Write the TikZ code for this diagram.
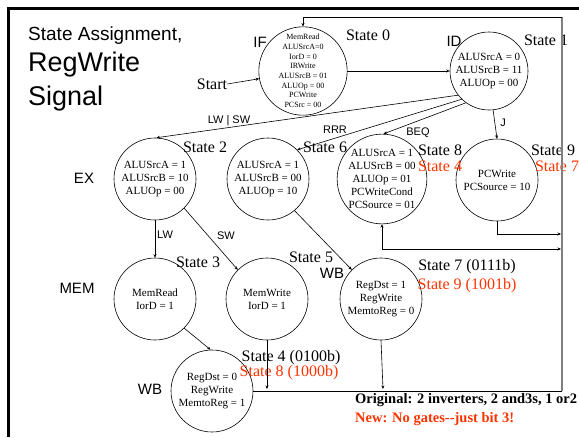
\documentclass[tikz,border=0pt]{standalone}
\usepackage{fontspec}
\setmainfont{Liberation Serif}
\setsansfont{Liberation Sans}
\usetikzlibrary{arrows.meta}
\definecolor{newred}{RGB}{255,51,0}
\begin{document}
\begin{tikzpicture}[x=1pt,y=-1pt,
  st/.style={circle,draw,line width=0.6pt,inner sep=0pt,minimum size=82pt,align=center,font=\fontsize{11}{13}\selectfont},
  lab/.style={font=\fontsize{16}{18}\selectfont,inner sep=0pt},
  redlab/.style={lab,text=newred},
  phase/.style={font=\sffamily\fontsize{15}{17}\selectfont,inner sep=0pt},
  cond/.style={font=\sffamily\fontsize{11}{13}\selectfont,inner sep=0pt},
  wire/.style={line width=0.6pt},
  conn/.style={wire,-{Stealth[length=3.5pt,width=3pt]}},
  conntwo/.style={wire,{Stealth[length=3.5pt,width=3pt]}-{Stealth[length=3.5pt,width=3pt]}},
  frame/.style={line width=3pt},
]
\useasboundingbox (0,0) rectangle (579,437);
% slide frame
\draw[frame] (8.5,437) -- (8.5,8.5) -- (579,8.5);
% title
\node[font=\sffamily\fontsize{19}{22}\selectfont,anchor=base west,inner sep=0pt] (t1) at (28,40) {State Assignment,};
\node[font=\sffamily\fontsize{27}{30}\selectfont,anchor=base west,inner sep=0pt] (t2) at (28,71) {RegWrite};
\node[font=\sffamily\fontsize{27}{30}\selectfont,anchor=base west,inner sep=0pt] (t3) at (28,105) {Signal};
% states
\node[st,minimum size=80pt,font=\fontsize{8}{9.7}\selectfont] (s0) at (303,71) {MemRead\\ALUSrcA=0\\IorD = 0\\IRWrite\\ALUSrcB = 01\\ALUOp = 00\\PCWrite\\PCSrc = 00};
\node[st,minimum size=78pt] (s1) at (489,71) {ALUSrcA = 0\\ALUSrcB = 11\\ALUOp = 00};
\node[st] (s2) at (155,179) {ALUSrcA = 1\\ALUSrcB = 10\\ALUOp = 00};
\node[st] (s6) at (268,179) {ALUSrcA = 1\\ALUSrcB = 00\\ALUOp = 10};
\node[st] (s8) at (382,179) {ALUSrcA = 1\\ALUSrcB = 00\\ALUOp = 01\\PCWriteCond\\PCSource = 01};
\node[st] (s9) at (497,180) {PCWrite\\PCSource = 10};
\node[st] (s3) at (155,299) {MemRead\\IorD = 1};
\node[st] (s5) at (267,299) {MemWrite\\IorD = 1};
\node[st] (s7) at (381,299) {RegDst = 1\\RegWrite\\MemtoReg = 0};
\node[st] (s4) at (212,391) {RegDst = 0\\RegWrite\\MemtoReg = 1};
% phase labels
\node[phase] (pif) at (260,42) {IF};
\node[phase] (pid) at (454,41) {ID};
\node[phase] (pex) at (84,178) {EX};
\node[phase] (pmem) at (77,288) {MEM};
\node[phase] (pwb1) at (150,389) {WB};
\node[phase] (pwb2) at (332,273) {WB};
% state labels
\node[lab] (l0) at (368,35) {State 0};
\node[lab] (l1) at (546,40) {State 1};
\node[lab] (l2) at (205,147) {State 2};
\node[lab] (l6) at (325,147) {State 6};
\node[lab] (l8) at (440,150) {State 8};
\node[redlab] (l8r) at (440,166) {State 4};
\node[lab] (l9) at (553,150) {State 9};
\node[redlab] (l9r) at (557,166) {State 7};
\node[lab] (l3) at (198,262) {State 3};
\node[lab] (l5) at (311,257) {State 5};
\node[lab] (l7) at (467,267) {State 7 (0111b)};
\node[redlab] (l7r) at (467,286) {State 9 (1001b)};
\node[lab] (l4) at (291,358) {State 4 (0100b)};
\node[redlab] (l4r) at (289,373) {State 8 (1000b)};
% start
\node[lab] (start) at (212,84) {Start};
\draw[conn] (start.east) -- (s0.190);
% transitions
\draw[conn] (s0.east) -- (s1.west);
\draw[conn] (s1.218) -- (s2.88);
\node[cond] (cls) at (229,121) {LW | SW};
\draw[conn] (s1.226) -- (s6.45);
\node[cond] (crrr) at (335,130) {RRR};
\draw[conn] (s1.234) -- (s8.88);
\node[cond] (cbeq) at (418,133) {BEQ};
\draw[conn] (s1.276) -- (s9.north);
\node[cond] (cj) at (503,123) {J};
\draw[conn] (s2.south) -- (s3.north);
\node[cond,anchor=west] (clw) at (157,235) {LW};
\draw[conn] (s2.-45) -- (s5.135);
\node[cond] (csw) at (226,236) {SW};
\draw[conn] (s3.-45) -- (s4.92);
\draw[conn] (s6.-50) -- (s7.135);
% return paths
\coordinate (br) at (562,391);
\coordinate (tr) at (562,17);
\coordinate (tl) at (303,17);
\coordinate (b5) at (267,389);
\coordinate (b7) at (383,389);
\coordinate (c9) at (497,234);
\coordinate (e9) at (561,234);
\coordinate (c8) at (382,249);
\coordinate (e8) at (561,249);
\draw[wire] (s4.east) -- (br);
\draw[conn] (s5.south) -- (b5);
\draw[conn] (s7.south) -- (b7);
\draw[conn] (s9.south) -- (c9) -- (e9);
\draw[conntwo] (e8) -- (c8) -- (s8.south);
\draw[gray,line width=1.5pt] (br) -- (tr);
\draw[conn] (tr) -- (tl) -- (s0.north);
% note
\node[anchor=base west,inner sep=0pt,font=\bfseries\fontsize{14.5}{16}\selectfont] (n1) at (355,403) {Original: 2 inverters, 2 and3s, 1 or2};
\node[anchor=base west,inner sep=0pt,font=\bfseries\fontsize{14.5}{16}\selectfont,text=newred] (n2) at (355,422) {New: No gates-{}-just bit 3!};
\end{tikzpicture}
\end{document}
